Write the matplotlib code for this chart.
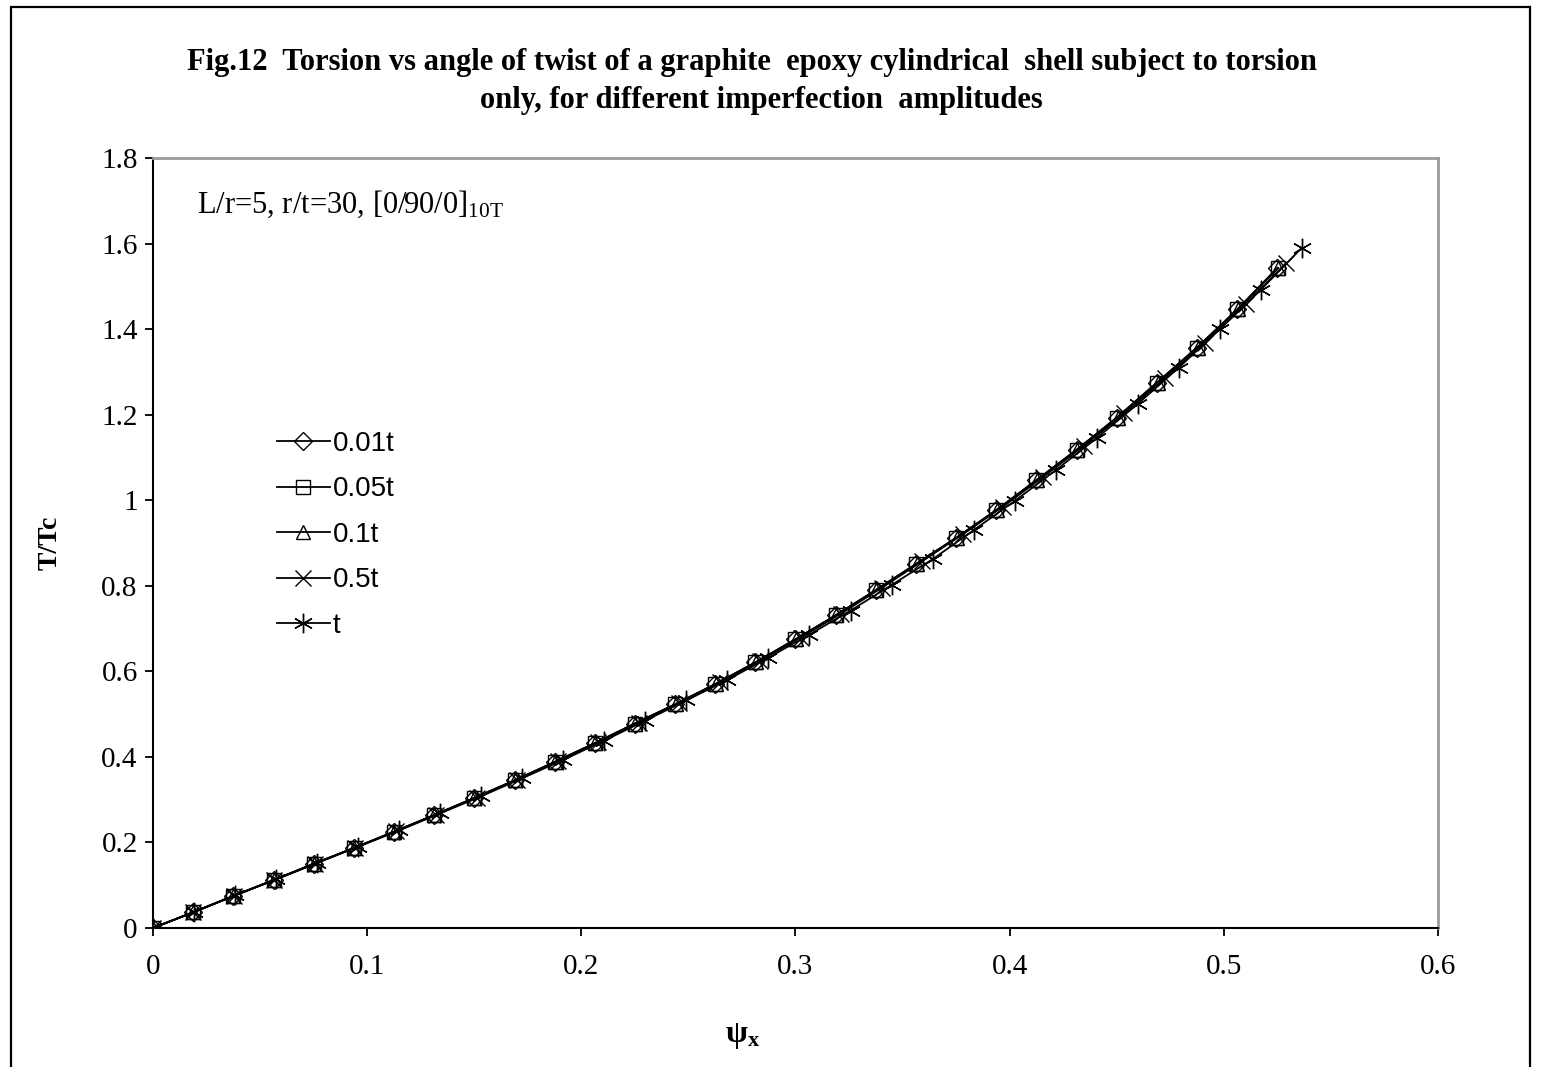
import matplotlib
matplotlib.use("Agg")
import matplotlib.pyplot as plt
from matplotlib.patches import Rectangle
from matplotlib.ticker import FuncFormatter

plt.rcParams['font.family'] = ['Liberation Serif', 'DejaVu Serif']
plt.rcParams['mathtext.fontset'] = 'custom'
plt.rcParams['mathtext.rm'] = 'Liberation Serif'
plt.rcParams['mathtext.it'] = 'Liberation Serif:italic'
plt.rcParams['mathtext.bf'] = 'Liberation Serif:bold'

# Angle of twist (psi_x) and torque ratio (T/Tc)
psi_001 = [0, 0.0188, 0.0375, 0.0563, 0.075, 0.0938, 0.1125, 0.1313, 0.15, 0.1688,
           0.1875, 0.2063, 0.225, 0.2438, 0.2625, 0.2813, 0.3, 0.3188, 0.3375, 0.3563,
           0.375, 0.3938, 0.4125, 0.4313, 0.45, 0.4688, 0.4875, 0.5063, 0.525]
tt_001 = [0, 0.037, 0.075, 0.112, 0.150, 0.187, 0.225, 0.264, 0.304, 0.345,
          0.388, 0.432, 0.478, 0.523, 0.570, 0.621, 0.675, 0.731, 0.790, 0.851,
          0.912, 0.977, 1.047, 1.118, 1.193, 1.275, 1.357, 1.446, 1.543]

psi_005 = [0, 0.0188, 0.0375, 0.0563, 0.075, 0.0938, 0.1125, 0.1313, 0.15, 0.1688,
           0.1875, 0.2063, 0.225, 0.2438, 0.2625, 0.2813, 0.3, 0.3188, 0.3375, 0.3563,
           0.375, 0.3938, 0.4125, 0.4313, 0.45, 0.4688, 0.4875, 0.5063, 0.5251]
tt_005 = [0, 0.037, 0.075, 0.112, 0.150, 0.187, 0.225, 0.264, 0.304, 0.345,
          0.388, 0.432, 0.478, 0.523, 0.570, 0.621, 0.675, 0.731, 0.790, 0.851,
          0.912, 0.977, 1.047, 1.118, 1.193, 1.275, 1.357, 1.446, 1.543]

psi_01 = [0, 0.0188, 0.0375, 0.0563, 0.0751, 0.0938, 0.1126, 0.1314, 0.1501, 0.1689,
          0.1877, 0.2064, 0.2252, 0.244, 0.2627, 0.2815, 0.3003, 0.319, 0.3378, 0.3566,
          0.3753, 0.3941, 0.4129, 0.4316, 0.4504, 0.4692, 0.4879, 0.5067, 0.5255]
tt_01 = [0, 0.037, 0.075, 0.112, 0.150, 0.187, 0.225, 0.264, 0.304, 0.345,
         0.388, 0.432, 0.478, 0.523, 0.570, 0.621, 0.675, 0.731, 0.790, 0.851,
         0.912, 0.977, 1.047, 1.118, 1.193, 1.275, 1.357, 1.446, 1.543]

psi_05 = [0, 0.0189, 0.0378, 0.0567, 0.0756, 0.0945, 0.1134, 0.1323, 0.1512, 0.1701,
          0.189, 0.2079, 0.2268, 0.2457, 0.2646, 0.2835, 0.3024, 0.3213, 0.3402, 0.3591,
          0.378, 0.3969, 0.4158, 0.4347, 0.4536, 0.4725, 0.4914, 0.5103, 0.5292]
tt_05 = [0, 0.037, 0.075, 0.112, 0.150, 0.188, 0.226, 0.265, 0.305, 0.347,
         0.390, 0.434, 0.480, 0.526, 0.574, 0.625, 0.679, 0.735, 0.795, 0.857,
         0.920, 0.985, 1.055, 1.127, 1.203, 1.285, 1.368, 1.458, 1.555]

psi_1 = [0, 0.0192, 0.0383, 0.0575, 0.0766, 0.0958, 0.115, 0.1341, 0.1533, 0.1724,
         0.1916, 0.2107, 0.2299, 0.2491, 0.2682, 0.2874, 0.3065, 0.3257, 0.3449, 0.364,
         0.3832, 0.4023, 0.4215, 0.4406, 0.4598, 0.479, 0.4981, 0.5173, 0.5364]
tt_1 = [0, 0.037, 0.076, 0.114, 0.152, 0.190, 0.228, 0.268, 0.308, 0.350,
        0.393, 0.438, 0.485, 0.532, 0.580, 0.632, 0.686, 0.742, 0.802, 0.862,
        0.930, 0.998, 1.070, 1.145, 1.225, 1.310, 1.400, 1.492, 1.590]

labels = ['0.01t', '0.05t', '0.1t', '0.5t', 't']

fig = plt.figure(figsize=(15.44, 10.67), dpi=100)
ax = fig.add_axes([0.0991, 0.1303, 0.8322, 0.7216])

# outer chart border (bottom edge runs off the picture)
fig.patches.append(Rectangle((11 / 1544, -0.05), (1530 - 11) / 1544, 1.05 - 7 / 1067,
                             transform=fig.transFigure, fill=False,
                             edgecolor='black', linewidth=1.6))

series = [(psi_001, tt_001, 'D', 9), (psi_005, tt_005, 's', 10),
          (psi_01, tt_01, '^', 10), (psi_05, tt_05, 'x', 11), (psi_1, tt_1, (6, 2, 0), 14)]
for (xs, ys, mk, ms), lab in zip(series, labels):
    ax.plot(xs, ys, color='black', linewidth=1.3, marker=mk, markersize=ms,
            markerfacecolor='none', markeredgecolor='black', markeredgewidth=1.0,
            label=lab)

ax.set_xlim(0, 0.6)
ax.set_ylim(0, 1.8)
ax.set_xticks([0, 0.1, 0.2, 0.3, 0.4, 0.5, 0.6])
ax.set_yticks([0, 0.2, 0.4, 0.6, 0.8, 1.0, 1.2, 1.4, 1.6, 1.8])
ax.yaxis.set_major_formatter(FuncFormatter(lambda v, p: '%g' % round(v, 1)))
ax.xaxis.set_major_formatter(FuncFormatter(lambda v, p: '%g' % round(v, 1)))
ax.tick_params(axis='both', direction='out', length=6, width=1.3, labelsize=21)
ax.tick_params(axis='x', pad=13)
ax.tick_params(axis='y', pad=5)

for side in ['top', 'right']:
    ax.spines[side].set_color('#9a9a9a')
    ax.spines[side].set_linewidth(2.0)
for side in ['left', 'bottom']:
    ax.spines[side].set_color('black')
    ax.spines[side].set_linewidth(1.5)

ax.set_ylabel('T/Tc', fontsize=20, fontweight='bold')
ax.yaxis.set_label_coords(-0.07, 0.5)
ax.set_xlabel(r'$\mathbf{ψ}_{\mathbf{x}}$', fontsize=23)
ax.xaxis.set_label_coords(0.459, -0.121)

fig.text(0.487, 0.941, 'Fig.12  Torsion vs angle of twist of a graphite  epoxy cylindrical  shell subject to torsion',
         ha='center', va='center', fontsize=22, fontweight='bold')
fig.text(0.493, 0.906, 'only, for different imperfection  amplitudes',
         ha='center', va='center', fontsize=22, fontweight='bold')

ax.text(0.034, 0.94, r'L/r=5, r/t=30, [0/90/0]$_{\mathrm{10T}}$', transform=ax.transAxes,
        fontsize=22, va='center', ha='left')

leg = ax.legend(loc='upper left', bbox_to_anchor=(0.077, 0.678), frameon=False,
                handlelength=1.9, handletextpad=0.1, labelspacing=0.7,
                prop={'family': ['Liberation Sans Narrow', 'Liberation Sans'], 'size': 20})

fig.savefig('out.png', dpi=100)
